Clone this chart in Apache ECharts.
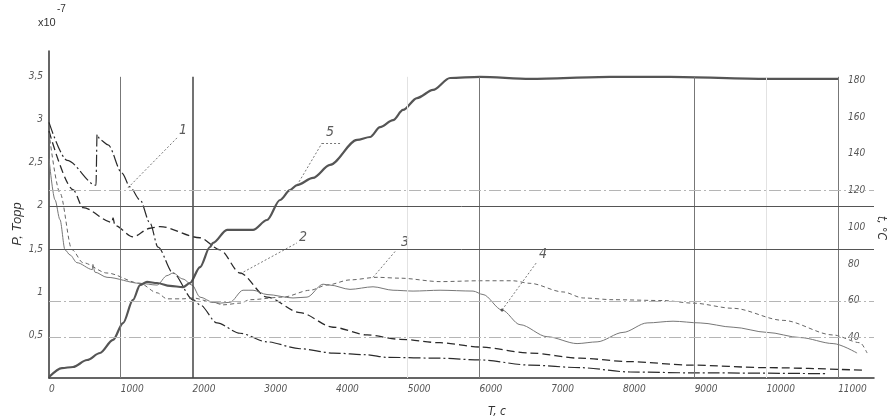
<!DOCTYPE html>
<html>
<head>
<meta charset="utf-8">
<script src="https://cdn.jsdelivr.net/npm/echarts@6/dist/echarts.min.js"></script>
<style>
html, body { margin: 0; padding: 0; background: #fff; overflow: hidden; }
#chart { width: 888px; height: 419px; }
</style>
</head>
<body>
<div id="chart"></div>
<script>
// кривые давления (ось слева, x10^-7 Торр), время в секундах
var curve1 = [[0,2.97],[251,2.53],[655,2.24],[670,2.83],[711,2.77],[823,2.71],[1018,2.38],[1129,2.22],[1269,2.07],[1408,1.80],[1520,1.52],[1729,1.22],[2008,0.91],[2105,0.85],[2342,0.64],[2663,0.52],[3039,0.42],[3499,0.34],[3959,0.29],[4433,0.27],[4712,0.24],[5451,0.23],[6009,0.21],[6706,0.15],[7403,0.12],[8100,0.07],[8936,0.06],[10846,0.05]];
var curve2 = [[0,2.87],[335,2.19],[474,1.98],[878,1.81],[892,1.86],[920,1.77],[1171,1.64],[1408,1.74],[1548,1.76],[2105,1.63],[2384,1.49],[2663,1.22],[3039,0.94],[3499,0.76],[3959,0.59],[4433,0.50],[4893,0.45],[5451,0.41],[6009,0.36],[6706,0.29],[7403,0.23],[8100,0.19],[8936,0.15],[10010,0.12],[11348,0.09]];
var curve3 = [[0,2.85],[153,2.15],[321,1.49],[474,1.34],[809,1.22],[1269,1.10],[1506,0.99],[1645,0.92],[1868,0.92],[2008,0.93],[2286,0.88],[2426,0.85],[2663,0.87],[2803,0.91],[3262,0.94],[3639,1.02],[3876,1.08],[4196,1.14],[4573,1.17],[4893,1.16],[5451,1.12],[6009,1.13],[6469,1.13],[6706,1.10],[7166,1.00],[7445,0.93],[7863,0.91],[8560,0.90],[8978,0.87],[9536,0.81],[10233,0.67],[10930,0.50],[11306,0.41],[11404,0.29]];
var curve4 = [[0,2.55],[84,2.07],[153,1.84],[223,1.49],[293,1.43],[390,1.34],[605,1.26],[612,1.32],[640,1.23],[809,1.17],[1269,1.10],[1506,1.08],[1645,1.19],[1729,1.22],[1868,1.15],[1994,1.08],[2105,0.94],[2286,0.88],[2384,0.87],[2523,0.88],[2705,1.02],[2844,1.02],[3039,0.97],[3402,0.93],[3597,0.94],[3820,1.09],[3917,1.08],[4196,1.03],[4517,1.06],[4796,1.02],[5075,1.01],[5451,1.02],[5911,1.01],[6050,0.97],[6315,0.79],[6566,0.62],[6943,0.48],[7361,0.40],[7640,0.42],[8002,0.53],[8337,0.64],[8699,0.66],[9076,0.64],[9536,0.59],[10010,0.53],[10470,0.47],[10930,0.40],[11264,0.29]];
// температура (ось справа, °C)
var curve5 = [[0,18.5],[181,23.4],[335,24],[530,27.8],[711,31.6],[892,38.7],[1032,47.9],[1171,60.5],[1269,68.6],[1366,70.3],[1506,69.7],[1687,68.1],[1868,67.5],[1965,69.7],[2105,78.4],[2244,89.3],[2286,91.5],[2482,98.6],[2844,98.6],[3039,104],[3220,114.9],[3360,120.3],[3457,123],[3680,126.9],[3917,134],[4294,147.6],[4475,149.2],[4615,154.6],[4796,158.4],[4935,163.9],[5130,170.4],[5353,174.8],[5590,181.3],[6008,181.9],[6706,180.8],[7821,181.9],[8657,181.9],[10010,180.8],[11000,180.8]];

// номера кривых и выноски
var noteText = ['1', '2', '3', '4', '5'];
var noteAt = [[1868,2.88],[3541,1.64],[4963,1.58],[6887,1.44],[3917,2.85]];
var leaderFrom = [[1101,2.21],[2663,1.21],[4517,1.17],[6315,0.79],[3457,2.24]];
var leaderTo = [[1784,2.79],[3457,1.57],[4824,1.47],[6803,1.35],[3806,2.73]];

var majorX = [1000, 2000, 6000, 9000, 11000];
var faintX = [5000, 10000];
var solidY = [1.5, 2];
var dashDotT = [40, 60, 120];

var myChart = echarts.init(document.getElementById('chart'));
var font = "'Liberation Sans Narrow', 'DejaVu Sans Condensed', 'Liberation Sans', sans-serif";
var dashDot = [12, 3, 2, 3];

var vLines = [];
majorX.forEach(function(v) {
	vLines.push([{ coord: [v, 0], lineStyle: { color: v == 2000 ? '#444' : '#777', width: v == 2000 ? 1.5 : 1, type: 'solid' } }, { coord: [v, 3.5] }]);
});
faintX.forEach(function(v) {
	vLines.push([{ coord: [v, 0], lineStyle: { color: '#e2e2e2', width: 1, type: 'solid' } }, { coord: [v, 3.5] }]);
});
solidY.forEach(function(v) {
	vLines.push({ yAxis: v, lineStyle: { color: '#555', width: 1, type: 'solid' } });
});

var leaders = [];
for (var i = 0; i < leaderFrom.length; i++) {
	leaders.push([{ coord: leaderFrom[i], symbol: i == 3 ? 'circle' : 'none', symbolSize: 3 }, { coord: leaderTo[i], symbol: 'none' }]);
}
// черта под номером 5
leaders.push([{ coord: [3806, 2.73] }, { coord: [4057, 2.73] }]);

var option = {
	animation: false,
	backgroundColor: '#fff',
	grid: { left: 49, right: 14, top: 51, bottom: 41, containLabel: false, outerBoundsMode: 'none' },
	xAxis: {
		type: 'value', min: 0, max: 11500, interval: 1000,
		axisLine: { lineStyle: { color: '#333', width: 1.5 } },
		axisTick: { show: false },
		splitLine: { show: false },
		axisLabel: {
			margin: 6, align: 'left', fontFamily: font, fontStyle: 'italic', fontSize: 10, color: '#555',
			formatter: function(v) { return v <= 11000 ? String(v) : ''; }
		}
	},
	yAxis: [{
		type: 'value', min: 0, max: 3.8, interval: 0.5,
		axisLine: { show: true, lineStyle: { color: '#333', width: 1.5 } },
		axisTick: { show: false },
		splitLine: { show: false },
		axisLabel: {
			margin: 6, fontFamily: font, fontStyle: 'italic', fontSize: 10, color: '#555',
			formatter: function(v) { return (v > 0 && v <= 3.5) ? String(v).replace('.', ',') : ''; }
		}
	}, {
		type: 'value', min: 18, max: 196, interval: 2, position: 'right', offset: -36,
		axisLine: { show: false },
		axisTick: { show: false },
		splitLine: { show: false },
		axisLabel: {
			margin: 10, fontFamily: font, fontStyle: 'italic', fontSize: 10, color: '#555',
			formatter: function(v) { return (v % 20 === 0 && v >= 40 && v <= 180) ? String(v) : ''; }
		}
	}],
	// подписи осей
	graphic: [
		{ type: 'text', left: 38, top: 17, style: { text: 'x10', fontSize: 11, fill: '#333', fontFamily: "'Liberation Sans', sans-serif" } },
		{ type: 'text', left: 57, top: 4, style: { text: '-7', fontSize: 10, fill: '#333', fontFamily: "'Liberation Sans', sans-serif" } },
		{ type: 'text', x: 17, y: 224, rotation: Math.PI / 2, style: { text: 'P, Торр', fontSize: 13, fontStyle: 'italic', fill: '#333', fontFamily: "'Liberation Sans', sans-serif", align: 'center', verticalAlign: 'middle' } },
		{ type: 'text', x: 881, y: 228, rotation: -Math.PI / 2, style: { text: 't, °C', fontSize: 12, fontStyle: 'italic', fill: '#333', fontFamily: font, align: 'center', verticalAlign: 'middle' } },
		{ type: 'text', x: 497, y: 412, style: { text: 'T, c', fontSize: 12, fontStyle: 'italic', fill: '#333', fontFamily: font, align: 'center', verticalAlign: 'middle' } }
	],
	series: [{
		name: 'grid', type: 'line', data: [], silent: true,
		markLine: { silent: true, symbol: ['none', 'none'], label: { show: false }, animation: false, data: vLines }
	}, {
		name: 'gridT', type: 'line', yAxisIndex: 1, data: [], silent: true,
		markLine: {
			silent: true, symbol: ['none', 'none'], label: { show: false }, animation: false,
			data: dashDotT.map(function(v) { return { yAxis: v, lineStyle: { color: '#b5b5b5', width: 1, type: dashDot } }; })
		}
	}, {
		name: '1', type: 'line', data: curve1, showSymbol: false, smooth: 0.3, smoothMonotone: 'x',
		lineStyle: { color: '#2a2a2a', width: 1.2, type: dashDot }
	}, {
		name: '2', type: 'line', data: curve2, showSymbol: false, smooth: 0.3, smoothMonotone: 'x',
		lineStyle: { color: '#2a2a2a', width: 1.3, type: [8, 4] }
	}, {
		name: '3', type: 'line', data: curve3, showSymbol: false, smooth: 0.3, smoothMonotone: 'x',
		lineStyle: { color: '#666', width: 1, type: [4, 3] }
	}, {
		name: '4', type: 'line', data: curve4, showSymbol: false, smooth: 0.3, smoothMonotone: 'x',
		lineStyle: { color: '#777', width: 1, type: 'solid' }
	}, {
		name: '5', type: 'line', yAxisIndex: 1, data: curve5, showSymbol: false, smooth: 0.3, smoothMonotone: 'x',
		lineStyle: { color: '#555', width: 2.2, type: 'solid' }
	}, {
		name: 'notes', type: 'scatter', symbolSize: 0, silent: true,
		data: noteAt.map(function(p, i) { return [p[0], p[1], noteText[i]]; }),
		label: {
			show: true, position: 'inside', fontFamily: font, fontStyle: 'italic', fontSize: 14, color: '#333',
			formatter: function(p) { return p.value[2]; }
		},
		markLine: {
			silent: true, symbol: ['none', 'none'], label: { show: false }, animation: false,
			lineStyle: { color: '#555', width: 0.8, type: [2, 2] },
			data: leaders
		}
	}]
};
myChart.setOption(option);
</script>
</body>
</html>
